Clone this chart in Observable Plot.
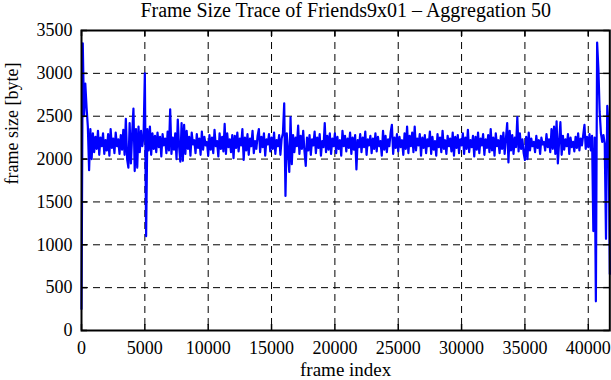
<!DOCTYPE html>
<html>
<head>
<meta charset="utf-8">
<script src="https://cdn.jsdelivr.net/npm/d3@7"></script>
<script src="https://cdn.jsdelivr.net/npm/@observablehq/plot@0.6"></script>
<style>
  html, body { margin: 0; padding: 0; background: white; }
  #chart svg { display: block; }
</style>
</head>
<body>
<div id="chart"></div>
<script>
// Aggregated frame sizes (bytes), one value every 100 frames
const frameStep = 100;
const frameSizes = [
  250, 3350, 2500, 2880, 2600, 2380, 1870, 2350, 2000, 2300,
  2080, 2260, 2120, 2330, 2050, 2250, 2150, 2300, 2060, 2220,
  2100, 2290, 2040, 2350, 2130, 2240, 2070, 2310, 2150, 2230,
  2060, 2280, 2110, 2340, 2050, 2470, 2000, 1900, 2420, 1950,
  2300, 2590, 1860, 2350, 1900, 2380, 2080, 2330, 2150, 2280,
  3000, 1100, 2350, 2100, 2380, 2050, 2300, 2120, 2270, 2080,
  2310, 2140, 2260, 2030, 2290, 2160, 2240, 2070, 2320, 2100,
  2580, 2060, 2250, 2110, 2300, 2000, 2460, 2150, 1970, 2420,
  1980, 2400, 2060, 2330, 2120, 2260, 2040, 2310, 2170, 2220,
  2070, 2290, 2130, 2240, 2050, 2320, 2110, 2260, 2160, 2200,
  2040, 2280, 2110, 2250, 2070, 2340, 2150, 2210, 2030, 2300,
  2120, 2260, 2090, 2410, 2060, 2300, 2140, 2230, 2080, 2280,
  2010, 2270, 2130, 2310, 2090, 2240, 2160, 2350, 1990, 2250,
  2100, 2290, 2050, 2240, 2150, 2330, 2070, 2210, 2120, 2270,
  2350, 2080, 2260, 2140, 2300, 2040, 2230, 2170, 2290, 2090,
  2250, 2120, 2310, 2060, 2220, 2150, 2280, 2050, 2240, 2300,
  2650, 1570, 2300, 2100, 1850, 2490, 1940, 2280, 2080, 2250,
  2150, 2390, 2060, 2270, 2120, 2330, 2090, 1920, 2250, 2100,
  2280, 2050, 2230, 2160, 2320, 2070, 2250, 2130, 2290, 2040,
  2210, 2140, 2420, 2080, 2270, 2110, 2300, 2060, 2240, 2150,
  2300, 2070, 2260, 2120, 2220, 2040, 2330, 2150, 2270, 2090,
  2240, 2130, 2310, 2060, 2250, 2110, 2280, 1880, 2220, 2140,
  2290, 2080, 2250, 2140, 2320, 2050, 2230, 2160, 2270, 2070,
  2240, 2120, 2300, 2090, 2260, 2150, 2210, 2040, 2330, 2110,
  2270, 2080, 2230, 2150, 2310, 2400, 2060, 2250, 2130, 2290,
  2090, 2260, 2140, 2220, 2050, 2300, 2120, 2380, 2070, 2270,
  2150, 2310, 2080, 2380, 2100, 2240, 2160, 2290, 2040, 2250,
  2130, 2280, 2070, 2230, 2150, 2320, 2060, 2260, 2110, 2210,
  2040, 2290, 2140, 2250, 2080, 2330, 2120, 2220, 2060, 2270,
  2150, 2240, 2090, 2310, 2040, 2260, 2130, 2280, 2070, 2230,
  2160, 2300, 2060, 2250, 2120, 2340, 2080, 2220, 2140, 2270,
  2030, 2260, 2110, 2310, 2070, 2240, 2160, 2290, 2050, 2230,
  2130, 2280, 2080, 2350, 2100, 2250, 2040, 2300, 2150, 2220,
  2070, 2270, 2120, 2310, 2060, 2240, 2420, 1960, 2330, 2100,
  2280, 2060, 2250, 2140, 2490, 2090, 2300, 2120, 2230, 2070,
  1990, 2260, 2000, 2310, 2100, 2240, 2150, 2200, 2080, 2270,
  2130, 2220, 2060, 2250, 2170, 2200, 2100, 2290, 2140, 2230,
  2080, 2350, 2120, 2380, 2060, 2440, 1950, 2200, 2430, 2050,
  2270, 2110, 2230, 2150, 2290, 2060, 2250, 2140, 2200, 2090,
  2260, 2130, 2300, 2100, 2240, 2160, 2280, 2400, 2120, 2260,
  2140, 2290, 2100, 2270, 1160, 2250, 340, 3360, 3050, 2550,
  2300, 2200, 2280, 2180, 1070, 2620, 2400, 660
];

const xTicks = [0, 5000, 10000, 15000, 20000, 25000, 30000, 35000, 40000];
const yTicks = [0, 500, 1000, 1500, 2000, 2500, 3000, 3500];
const xDomain = [0, 41700];
const yDomain = [0, 3500];
const titleText = "Frame Size Trace of Friends9x01 \u2013 Aggregation 50";
const xLabel = "frame index";
const yLabel = "frame size [byte]";

const data = frameSizes.map((v, i) => ({frame: i * frameStep, size: v}));
const xGrid = xTicks.filter(d => d > xDomain[0] && d < xDomain[1]);
const yGrid = yTicks.filter(d => d > yDomain[0] && d < yDomain[1]);

const font = "'Liberation Serif', 'Times New Roman', serif";

const chart = Plot.plot({
  width: 611,
  height: 380,
  marginLeft: 81,
  marginRight: 1.7,
  marginTop: 30,
  marginBottom: 50,
  style: {fontFamily: font, fontSize: "18px", background: "white", color: "black", overflow: "visible"},
  x: {domain: xDomain, ticks: xTicks, tickFormat: "d", tickSize: 0, tickPadding: 11, label: null},
  y: {domain: yDomain, ticks: yTicks, tickFormat: "d", tickSize: 0, tickPadding: 9, label: null},
  marks: [
    Plot.ruleX(xGrid, {stroke: "black", strokeWidth: 1, strokeDasharray: "7,5"}),
    Plot.ruleY(yGrid, {stroke: "black", strokeWidth: 1, strokeDasharray: "7,5"}),
    Plot.line(data, {x: "frame", y: "size", stroke: "#0000ff", strokeWidth: 2.2}),
    // inward ticks on all four sides
    Plot.ruleX(xTicks, {y1: yDomain[0], y2: yDomain[0], insetBottom: 6, stroke: "black", strokeWidth: 1.5}),
    Plot.ruleX(xTicks, {y1: yDomain[1], y2: yDomain[1], insetTop: 6, stroke: "black", strokeWidth: 1.5}),
    Plot.ruleY(yTicks, {x1: xDomain[0], x2: xDomain[0], insetLeft: 6, stroke: "black", strokeWidth: 1.5}),
    Plot.ruleY(yTicks, {x1: xDomain[1], x2: xDomain[1], insetRight: 6, stroke: "black", strokeWidth: 1.5}),
    Plot.frame({stroke: "black", strokeWidth: 2}),
    Plot.text([titleText], {frameAnchor: "top", dy: -28, lineAnchor: "top", fontSize: 20, fill: "black"}),
    Plot.text([xLabel], {frameAnchor: "bottom", dy: 45, fontSize: 19, fill: "black"}),
    Plot.text([yLabel], {frameAnchor: "left", dx: -69, dy: 4, rotate: -90, fontSize: 18, fill: "black"})
  ]
});
document.getElementById("chart").appendChild(chart);
</script>
</body>
</html>
